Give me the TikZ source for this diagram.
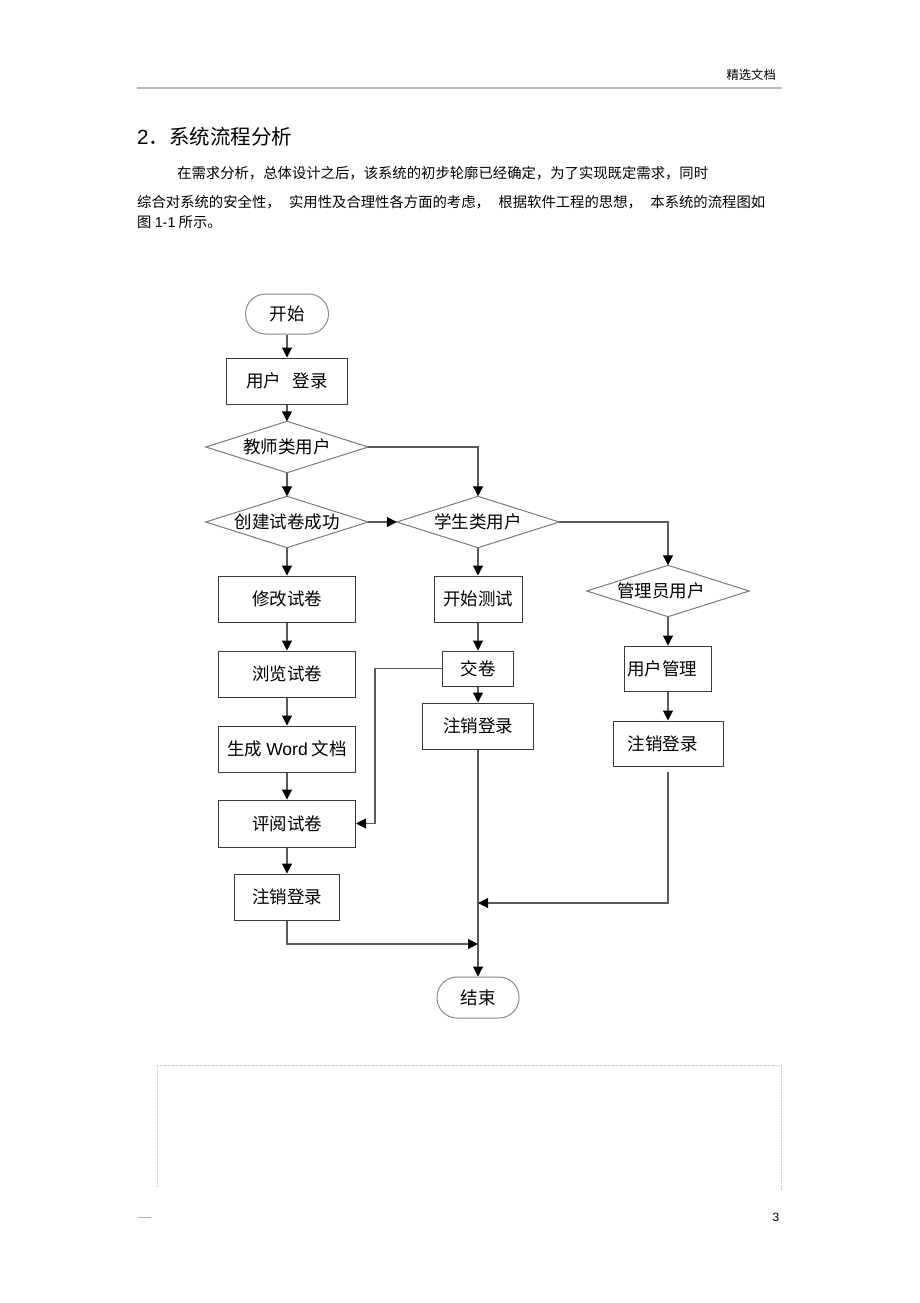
\documentclass[tikz,border=0pt]{standalone}
\usepackage{fontspec}
\setmainfont{Liberation Sans}
\newfontfamily\cjk{Noto Sans CJK SC}
\usetikzlibrary{arrows.meta}
\definecolor{boxc}{HTML}{3A3A3A}
\definecolor{diamc}{HTML}{7A7A7A}
\definecolor{termc}{HTML}{8A8A8A}
\definecolor{linec}{HTML}{5A5A5A}
\begin{document}
\begin{tikzpicture}[x=1pt,y=-1pt,
  procbox/.style={draw=boxc,line width=1pt,rectangle,inner sep=0pt,
    font=\cjk\fontsize{17.5pt}{20pt}\selectfont},
  termbox/.style={draw=termc,line width=1pt,rectangle,rounded corners=20pt,inner sep=0pt,
    minimum width=83pt,minimum height=40pt,font=\cjk\fontsize{17.5pt}{20pt}\selectfont},
  decbox/.style={rectangle,inner sep=0pt,minimum width=162pt,minimum height=51pt,
    font=\cjk\fontsize{17.5pt}{20pt}\selectfont},
  diamline/.style={draw=diamc,line width=1pt},
  flow/.style={draw=linec,line width=1.1pt,-{Triangle[length=10pt,width=10pt,black]}},
  bodytext/.style={anchor=base west,inner sep=0pt,font=\cjk\fontsize{14.35pt}{17pt}\selectfont}
]
\fill[white] (0,0) rectangle (920,1303);
\useasboundingbox (0,0) rectangle (920,1303);

% header
\node[anchor=base east,inner sep=0pt,font=\cjk\fontsize{12.3pt}{14pt}\selectfont] (hdr) at (776,79.5) {精选文档};
\coordinate (rl) at (137,88);
\coordinate (rr) at (782,88);
\draw[gray!55,line width=1.8pt] (rl) -- (rr);

% heading and paragraph
\node[anchor=base west,inner sep=0pt,font=\fontsize{20.5pt}{24pt}\selectfont] (ttl) at (137,144.5) {2{\cjk．系统流程分析}};
\node[bodytext] (p1) at (177,178.5) {在需求分析，总体设计之后，该系统的初步轮廓已经确定，为了实现既定需求，同时};
\node[bodytext] (p2) at (137,207.5) {\makebox[628pt][s]{综合对系统的安全性， 实用性及合理性各方面的考虑， 根据软件工程的思想， 本系统的流程图如}};
\node[bodytext] (p3) at (137,227.5) {图 {\rmfamily 1-1} 所示。};

% flowchart nodes
\node[termbox] (start) at (287,314) {开始};
\node[procbox,minimum width=121pt,minimum height=46pt] (login) at (287,381) {用户\hspace{12pt}登录};
\node[decbox] (teacher) at (287,447) {教师类用户};
\node[decbox] (create) at (287,522) {创建试卷成功};
\node[decbox] (student) at (478,522) {学生类用户};
\node[decbox] (admin) at (668,591) {管理员用户\kern14pt};
\foreach \n in {teacher,create,student,admin}
  \draw[diamline] (\n.west) -- (\n.north) -- (\n.east) -- (\n.south) -- cycle;

\node[procbox,minimum width=137pt,minimum height=46pt] (modify) at (287,599) {修改试卷};
\node[procbox,minimum width=137pt,minimum height=46pt] (browse) at (287,674) {浏览试卷};
\node[procbox,minimum width=137pt,minimum height=46pt] (gen) at (287,749) {生成 {\rmfamily Word} 文档};
\node[procbox,minimum width=137pt,minimum height=47pt] (review) at (287,823.5) {评阅试卷};
\node[procbox,minimum width=105pt,minimum height=46pt] (tlogout) at (287,897) {注销登录};

\node[procbox,minimum width=88pt,minimum height=46pt] (test) at (478,599) {开始测试};
\node[procbox,minimum width=71pt,minimum height=35pt] (submit) at (478,668.5) {交卷};
\node[procbox,minimum width=111pt,minimum height=46pt] (slogout) at (478,726) {注销登录};

\node[procbox,minimum width=87pt,minimum height=45pt] (umgmt) at (668,668.5) {用户管理\kern12pt};
\node[procbox,minimum width=110pt,minimum height=45pt] (alogout) at (668,743.5) {注销登录\kern11pt};

\node[termbox,minimum width=82pt,minimum height=41pt] (end) at (478,997.5) {结束};

% connectors
\draw[flow] (start) -- (login);
\draw[flow] (login) -- (teacher.north);
\draw[flow] (teacher.south) -- (create.north);
\draw[flow] (teacher.east) -| (student.north);
\draw[flow] (create.east) -- (student.west);
\draw[flow] (student.east) -| (admin.north);
\draw[flow] (create.south) -- (modify);
\draw[flow] (modify) -- (browse);
\draw[flow] (browse) -- (gen);
\draw[flow] (gen) -- (review);
\draw[flow] (review) -- (tlogout);
\draw[flow] (student.south) -- (test);
\draw[flow] (test) -- (submit);
\draw[flow] (submit) -- (slogout);
\draw[flow] (admin.south) -- (umgmt);
\draw[flow] (umgmt) -- (alogout);
\coordinate (sb) at (375,668.5);
\draw[flow] (submit.west) -- (sb) |- (review.east);
\draw[flow] (slogout.south) -- (end.north);
\coordinate (j1) at (478,944);
\coordinate (j2) at (478,903);
\coordinate (a0) at (668,772);
\draw[flow] (tlogout.south) |- (j1);
\draw[flow] (a0) |- (j2);

% footer area
\coordinate (b1) at (157,1187);
\coordinate (b2) at (157,1065);
\coordinate (b3) at (781,1065);
\coordinate (b4) at (781,1190);
\draw[gray!40,densely dotted,line width=0.6pt] (b1) -- (b2) -- (b3) -- (b4);
\coordinate (d1) at (138,1217);
\coordinate (d2) at (151,1217);
\draw[gray!60,line width=1pt] (d1) -- (d2);
\node[inner sep=0pt,font=\fontsize{12pt}{14pt}\selectfont] (pg) at (776,1217) {3};
\end{tikzpicture}
\end{document}
